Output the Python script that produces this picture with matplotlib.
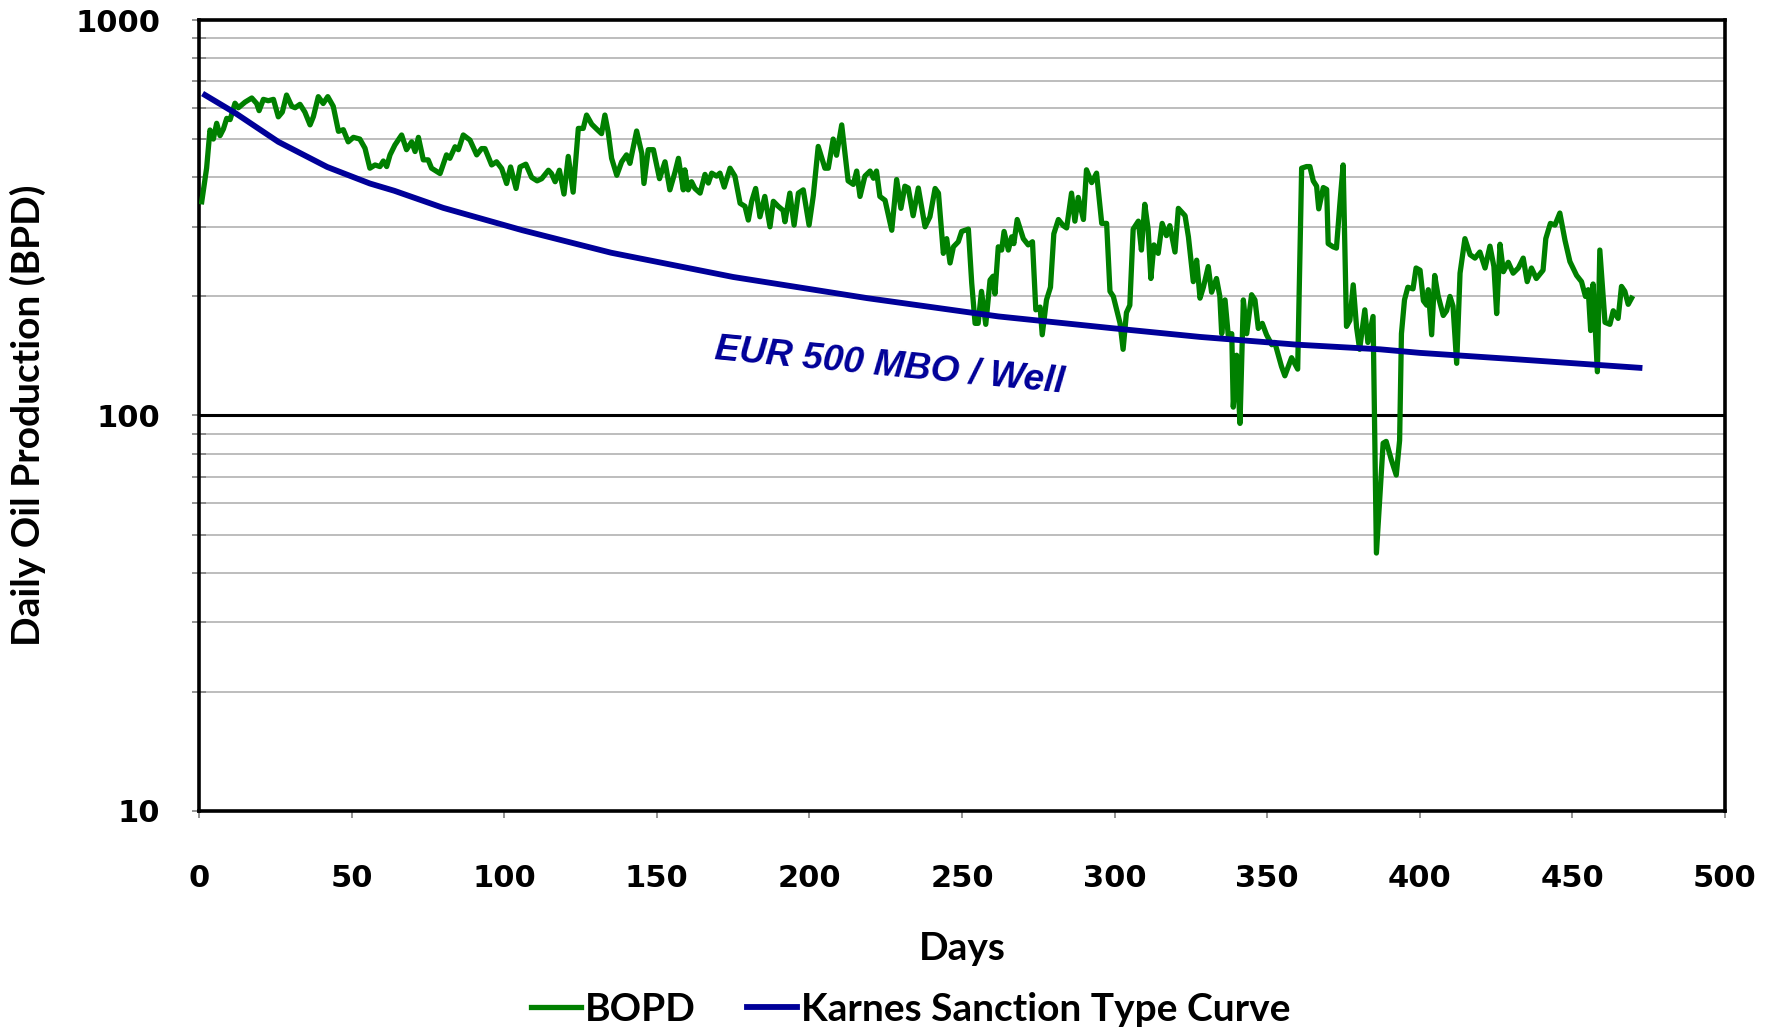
import matplotlib
matplotlib.use("Agg")
import matplotlib.pyplot as plt
from matplotlib.ticker import LogLocator, NullFormatter, FixedLocator

# daily oil production (days, BOPD)
bopd_days = [0.9, 2.5, 3.6, 4.7, 5.8, 6.9, 8.0, 9.1, 10.2, 11.8, 12.9, 15.1, 17.3, 18.9, 19.7, 21.1, 22.7, 24.4, 26.0, 27.3,
             28.7, 30.4, 31.5, 33.1, 34.7, 36.4, 37.5, 39.1, 40.7, 42.2, 44.0, 45.7, 47.3, 48.9, 50.6, 52.7, 54.4, 56.0, 57.7, 59.3,
             60.4, 61.5, 62.6, 64.2, 66.4, 68.0, 69.7, 70.8, 71.9, 73.5, 75.1, 76.2,
             79.0, 81.1, 82.2, 83.9, 85.0, 86.6, 88.8, 91.0, 92.6, 93.7, 95.9, 97.5, 99.2, 100.8, 102.1, 103.9, 105.2, 107.1,
             109.0, 110.8, 112.3, 114.5, 115.5, 116.7, 118.1, 119.6, 121.0, 122.6, 124.3, 125.9, 127.0, 128.7, 130.3, 131.9,
             133.0, 134.1, 135.2, 136.9, 138.5, 140.1, 141.2, 143.4, 145.1, 145.8, 147.2, 148.9, 150.9, 152.7, 154.3, 156.0,
             157.1, 158.7,
             159.2, 160.3, 161.4, 162.5, 164.2, 165.8, 166.9, 168.0, 169.6, 170.7, 172.1, 174.0, 175.6, 177.3, 178.9, 180.0,
             181.1, 182.4, 183.8, 185.4, 187.1, 188.2, 189.8, 191.4, 192.0, 193.6, 195.0, 196.4, 198.0, 199.9, 201.3, 202.9,
             205.1, 206.2, 207.8, 208.9, 210.6, 212.7, 214.4, 215.5, 216.6, 218.2, 219.9, 221.0, 222.0, 223.1, 224.8, 227.0,
             228.6, 230.0, 231.3, 232.4, 234.0, 235.7, 237.9,
             239.5, 241.2, 242.3, 243.9, 245.0, 246.1, 247.2, 248.8, 249.9, 252.1, 253.2, 254.3, 255.3, 256.4, 257.8, 259.2,
             260.2, 260.8, 261.9, 263.0, 263.8, 265.2, 266.3, 267.0, 268.1, 270.1, 271.7, 273.1, 274.2, 275.6, 276.3, 277.7,
             279.0, 280.1, 281.6, 283.2, 284.3, 285.9, 287.0, 288.1, 289.8, 290.8, 292.5, 294.1, 295.8, 297.4, 298.5, 299.6,
             300.7, 301.8, 302.8, 303.9, 305.0, 306.1, 307.8, 308.8, 309.9, 311.0, 311.9, 312.9, 314.3, 315.6, 317.0, 318.1,
             319.8, 320.9, 323.1, 324.2, 325.8, 326.9, 328.0, 329.1, 330.7, 331.8, 333.4, 334.5, 335.1, 336.2, 337.3, 338.4,
             338.9, 340.0, 341.1, 342.2, 343.3, 344.9, 346.0, 347.1, 348.4, 349.8, 351.5, 352.5, 354.7, 355.8, 358.0, 360.0,
             361.3, 362.9, 364.0, 365.1, 366.2, 366.9, 368.4, 369.5, 370.0, 371.6, 372.7, 373.8, 374.9, 376.0, 377.1, 378.2,
             379.3, 380.3, 382.0, 383.0, 384.7, 385.8, 388.0, 389.0, 390.7, 392.3, 393.4, 394.0, 395.0, 396.1, 397.8, 398.8,
             400.1, 401.2, 402.3, 402.8, 403.9, 404.9, 406.0, 407.7, 408.8, 409.9, 410.9, 412.1, 413.2, 414.8, 416.5, 418.1,
             419.7, 421.4, 423.0, 424.3, 425.2, 426.3, 427.4, 429.0, 430.6, 432.3, 433.9, 435.2, 436.6, 438.2, 440.4, 441.3,
             442.8, 444.3, 445.9, 447.6, 449.2, 451.4, 453.0, 454.3, 455.2, 456.0, 456.8, 458.2, 459.0, 460.7, 462.3, 463.4,
             465.0, 466.1, 467.2, 468.3, 469.4]
bopd_values = [347, 422, 527, 500, 548, 510, 530, 564, 560, 616, 600, 620, 635, 615, 590, 630, 625, 630, 569, 585,
               646, 605, 600, 612, 585, 543, 570, 640, 615, 640, 605, 523, 528, 492, 505, 500, 474, 422, 430, 426,
               440, 426, 456, 483, 512, 470, 492, 465, 505, 443, 443, 422,
               409, 456, 447, 478, 470, 512, 497, 456, 473, 473, 430, 438, 421, 386, 425, 375, 425, 432,
               400, 392, 397, 417, 409, 390, 417, 363, 452, 367, 532, 532, 575, 545, 530, 516,
               575, 520, 447, 405, 438, 456, 434, 524, 460, 386, 470, 470, 397, 438, 372, 413,
               447, 372,
               418, 372, 390, 375, 365, 407, 387, 410, 403, 410, 378, 422, 403, 344, 338, 312,
               348, 375, 318, 358, 300, 348, 338, 330, 309, 365, 303, 365, 372, 303, 360, 479,
               422, 422, 500, 455, 543, 392, 384, 415, 358, 403, 415, 398, 415, 358, 350, 294,
               395, 334, 380, 376, 320, 376, 300,
               318, 375, 365, 257, 280, 243, 267, 275, 292, 296, 216, 171, 171, 206, 170, 220,
               225, 203, 267, 262, 292, 262, 283, 272, 313, 280, 270, 275, 185, 188, 160, 196,
               211, 288, 313, 302, 298, 365, 310, 356, 313, 418, 388, 410, 306, 306, 206, 200,
               185, 171, 147, 182, 190, 296, 310, 262, 342, 296, 222, 270, 257, 306, 285, 302,
               259, 334, 320, 283, 218, 247, 198, 211, 238, 205, 222, 200, 161, 196, 158, 161,
               105, 142, 95.5, 196, 161, 202, 196, 166, 171, 160, 151, 153, 133, 126, 140, 131,
               422, 426, 426, 392, 380, 333, 377, 373, 272, 267, 265, 341, 430, 168, 174, 214,
               167, 147, 185, 153, 178, 44.9, 85.1, 86, 77.2, 70.7, 86.5, 161, 196, 211, 209, 236,
               233, 195, 190, 208, 160, 226, 201, 179, 184, 200, 189, 135.5, 229, 280, 255, 250,
               259, 236, 268, 238, 181, 271, 231, 244, 229, 236, 250, 218, 236, 222, 233, 280,
               306, 303, 325, 277, 245, 226, 218, 200, 208, 164, 215, 129, 262, 172, 170, 184,
               176, 212, 206, 191, 198]

# type curve
type_days = [2, 12, 26, 42, 56, 64, 80, 106, 135, 175, 219, 262, 300, 328, 360, 387, 400, 430, 472]
type_values = [646, 581, 492, 425, 386, 370, 335, 294, 258, 224, 198, 178, 166, 158, 151, 147, 144, 139, 132]

x_ticks = [0, 50, 100, 150, 200, 250, 300, 350, 400, 450, 500]
y_ticks = [10, 100, 1000]

label_font = "Lato"
green = "#008000"
navy = "#000099"

fig = plt.figure(figsize=(17.75, 10.31), dpi=100)
ax = fig.add_axes([0.1121, 0.2134, 0.8597, 0.7672])

ax.plot(bopd_days, bopd_values, color=green, lw=3.8, solid_joinstyle="round", label="BOPD", zorder=3)
ax.plot(type_days, type_values, color=navy, lw=4.2, solid_joinstyle="round",
        label="Karnes Sanction Type Curve", zorder=4)

ax.set_yscale("log")
ax.set_xlim(0, 500)
ax.set_ylim(10, 1000)
ax.xaxis.set_major_locator(FixedLocator(x_ticks))
ax.yaxis.set_major_locator(FixedLocator(y_ticks))
ax.set_yticklabels([str(v) for v in y_ticks])
ax.yaxis.set_minor_locator(LogLocator(base=10, subs=[2, 3, 4, 5, 6, 7, 8, 9]))
ax.yaxis.set_minor_formatter(NullFormatter())

ax.grid(axis="y", which="minor", color="#bdbdbd", lw=1.4)
ax.axhline(100, color="black", lw=2.2, zorder=2)

for s in ax.spines.values():
    s.set_linewidth(2.6)
    s.set_color("black")

ax.tick_params(axis="y", which="both", direction="inout", length=10, width=1.2, color="#808080", pad=23)
ax.tick_params(axis="x", which="major", direction="out", length=5, width=1.2, color="#808080", pad=33)
for lab in ax.get_xticklabels() + ax.get_yticklabels():
    lab.set_fontsize(22)
    lab.set_fontweight("bold")
    lab.set_family("DejaVu Sans")

ax.set_xlabel("Days", fontsize=28, fontweight="bold", family=label_font)
ax.xaxis.set_label_coords(0.5, -0.152)
ax.set_ylabel("Daily Oil Production (BPD)", fontsize=28, fontweight="bold", family=label_font)
ax.yaxis.set_label_coords(-0.1, 0.5)

ax.text(226.3, 133.3, "EUR 500 MBO / Well", color=navy, fontsize=26.5, fontweight="bold", fontstyle="italic",
        family="Liberation Sans", rotation=-5.5, rotation_mode="anchor", ha="center", va="center")

fig.legend(loc="center", bbox_to_anchor=(0.513, 0.0213), ncol=2, frameon=False,
           prop={"family": label_font, "weight": "bold", "size": 28},
           handlelength=1.3, handletextpad=0.1, columnspacing=1.3)

fig.savefig("out.png", dpi=100)
